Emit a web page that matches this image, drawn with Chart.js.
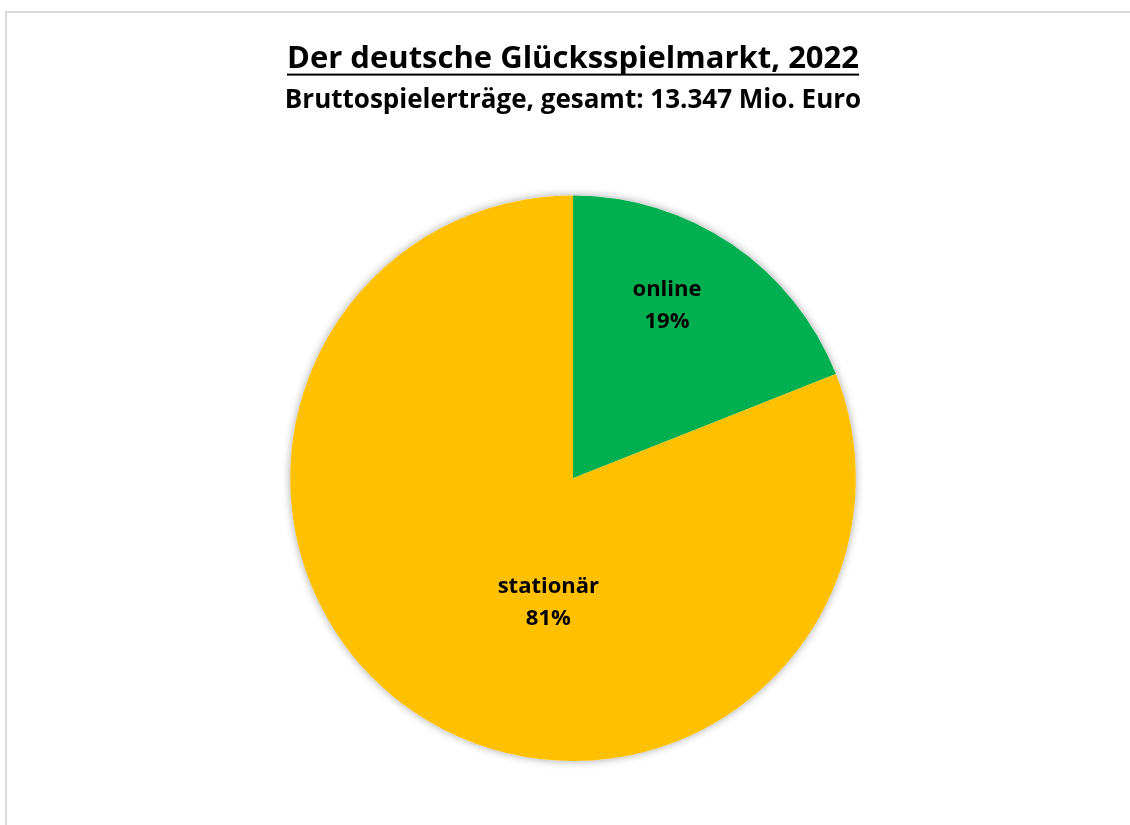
<!DOCTYPE html>
<html lang="de">
<head>
<meta charset="utf-8">
<title>Der deutsche Glücksspielmarkt, 2022</title>
<script src="https://cdn.jsdelivr.net/npm/chart.js@4/dist/chart.umd.min.js"></script>
<style>
  html, body { margin: 0; padding: 0; background: #fff; }
  #wrap { position: relative; width: 1130px; height: 825px; }
</style>
</head>
<body>
<div id="wrap"><canvas id="myChart"></canvas></div>
<script>
var categories = ['online', 'stationär'];
var shares = [19, 81];            // Anteil in Prozent
var sliceColors = ['#00B050', '#FFC000'];
var titleText = 'Der deutsche Glücksspielmarkt, 2022';
var subtitleText = 'Bruttospielerträge, gesamt: 13.347 Mio. Euro';

var FONT = '"Open Sans", Lato, sans-serif';

// gray frame on the left and top edge
var framePlugin = {
    id: 'frame',
    beforeDraw: function (chart) {
        var ctx = chart.ctx;
        ctx.save();
        ctx.strokeStyle = '#d9d9d9';
        ctx.lineWidth = 2;
        ctx.beginPath();
        ctx.moveTo(6, chart.height);
        ctx.lineTo(6, 12);
        ctx.lineTo(chart.width, 12);
        ctx.stroke();
        ctx.restore();
    }
};

// soft shadow behind the whole pie
var shadowPlugin = {
    id: 'pieShadow',
    beforeDatasetsDraw: function (chart) {
        var arc = chart.getDatasetMeta(0).data[0];
        if (!arc) return;
        var ctx = chart.ctx;
        ctx.save();
        ctx.shadowColor = 'rgba(0,0,0,0.35)';
        ctx.shadowBlur = 9;
        ctx.fillStyle = '#fff';
        ctx.beginPath();
        ctx.arc(arc.x, arc.y, arc.outerRadius, 0, Math.PI * 2);
        ctx.fill();
        ctx.restore();
    }
};

// underline below the main title
var underlinePlugin = {
    id: 'titleUnderline',
    afterDraw: function (chart) {
        var tb = chart.titleBlock;
        if (!tb) return;
        var ctx = chart.ctx;
        var f = tb.options.font;
        ctx.save();
        ctx.font = f.weight + ' ' + f.size + 'px ' + FONT;
        var w = ctx.measureText(titleText).width;
        var cx = tb.left + tb.width / 2;
        var y = tb.top + tb.options.padding.top + f.size * 0.6 + 14;
        ctx.fillStyle = '#000';
        ctx.fillRect(cx - w / 2, y, w, 2);
        ctx.restore();
    }
};

// category name and percentage inside each slice
var sliceLabelPlugin = {
    id: 'sliceLabels',
    afterDatasetsDraw: function (chart, args, opts) {
        var ctx = chart.ctx;
        var meta = chart.getDatasetMeta(0);
        ctx.save();
        ctx.font = 'bold 22px ' + FONT;
        ctx.fillStyle = '#000';
        ctx.textAlign = 'center';
        ctx.textBaseline = 'middle';
        meta.data.forEach(function (arc, i) {
            var place = opts.place[i];
            var a = arc.startAngle + (arc.endAngle - arc.startAngle) * place.along;
            var r = arc.outerRadius * place.radius;
            var x = arc.x + Math.cos(a) * r;
            var y = arc.y + Math.sin(a) * r;
            ctx.fillText(categories[i], x, y - 16);
            ctx.fillText(shares[i] + '%', x, y + 16);
        });
        ctx.restore();
    }
};

var ctx = document.getElementById('myChart').getContext('2d');
var chart = new Chart(ctx, {
    type: 'pie',
    data: {
        labels: categories,
        datasets: [{
            data: shares,
            backgroundColor: sliceColors,
            borderWidth: 0
        }]
    },
    options: {
        responsive: true,
        maintainAspectRatio: false,
        animation: false,
        layout: {
            padding: { top: 12, bottom: 64, left: 16, right: 0 }
        },
        plugins: {
            legend: { display: false },
            tooltip: { enabled: false },
            title: {
                display: true,
                text: titleText,
                color: '#000',
                font: { family: FONT, size: 31, weight: 'bold' },
                padding: { top: 29, bottom: 3 }
            },
            subtitle: {
                display: true,
                text: subtitleText,
                color: '#000',
                font: { family: FONT, size: 26, weight: 'bold' },
                padding: { top: 4, bottom: 79 }
            },
            sliceLabels: {
                place: [
                    { along: 0.417, radius: 0.696 },
                    { along: 0.421, radius: 0.45 }
                ]
            }
        }
    },
    plugins: [framePlugin, shadowPlugin, sliceLabelPlugin, underlinePlugin]
});
</script>
</body>
</html>
